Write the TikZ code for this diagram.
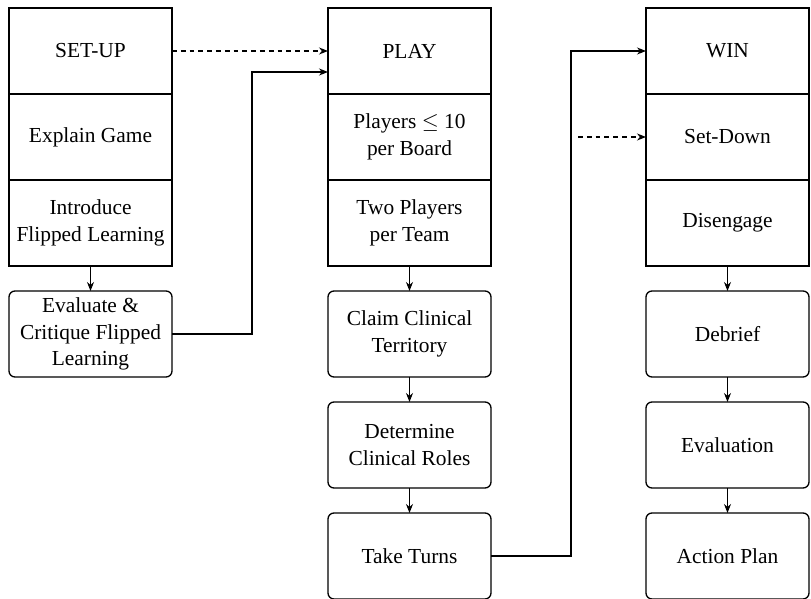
\documentclass[tikz,border=0pt]{standalone}
\usepackage{amsmath}
\usepackage{amssymb}
\usepackage{fontspec}
\setmainfont{Liberation Serif}
\usepackage{tikz}
\usetikzlibrary{arrows.meta,shapes,positioning,calc}

\begin{document}
\begin{tikzpicture}[
  box/.style={draw, line width=0.65pt, minimum width=81.5pt, minimum height=43pt,
    inner sep=0pt, outer sep=0pt, align=center, font=\fontsize{10.7}{13.2}\selectfont},
  rbox/.style={box, rounded corners=3pt},
  arrow/.style={line width=0.6pt, -{Stealth[length=4.5pt,width=3.5pt]}},
  dashline/.style={dash pattern=on 2.4pt off 2pt}]

  \useasboundingbox (0,0) rectangle (405.5pt,-299.5pt);

  % Nodes
  \node[box, anchor=north west] (setup) at (4.5pt,-4pt) {SET-UP};
  \node[box, below=0pt of setup] (explain) {Explain Game};
  \node[box, below=0pt of explain] (intro) {Introduce\\Flipped Learning};
  \node[rbox, below=12.5pt of intro] (critique) {Evaluate \&\\Critique Flipped\\Learning};

  \node[box, right=78pt of setup] (play) {PLAY};
  \node[box, below=0pt of play] (board) {Players $\leq$ 10\\per Board};
  \node[box, below=0pt of board] (team) {Two Players\\per Team};
  \node[rbox, below=12.5pt of team] (claim) {Claim Clinical\\Territory};
  \node[rbox, below=12.5pt of claim] (roles) {Determine\\Clinical Roles};
  \node[rbox, below=12.5pt of roles] (turns) {Take Turns};

  \node[box, right=77.5pt of play] (win) {WIN};
  \node[box, below=0pt of win] (setdown) {Set-Down};
  \node[box, below=0pt of setdown] (disengage) {Disengage};
  \node[rbox, below=12.5pt of disengage] (debrief) {Debrief};
  \node[rbox, below=12.5pt of debrief] (evaluation) {Evaluation};
  \node[rbox, below=12.5pt of evaluation] (plan) {Action Plan};

  \coordinate (sdin) at ([xshift=-34pt]setdown.west);

  % Connectors
  \foreach \a/\b in {intro/critique, team/claim, claim/roles, roles/turns,
    disengage/debrief, debrief/evaluation, evaluation/plan}
    \draw[arrow] (\a) -- (\b);

  \draw[arrow, dashline] (setup) -- (play);
  \draw[arrow] (critique.east) -- ++(40pt,0) |- ([yshift=-10.5pt]play.west);
  \draw[arrow] (turns.east) -- ++(40pt,0) |- (win.west);
  \draw[arrow, dashline] (sdin) -- (setdown.west);

\end{tikzpicture}
\end{document}
